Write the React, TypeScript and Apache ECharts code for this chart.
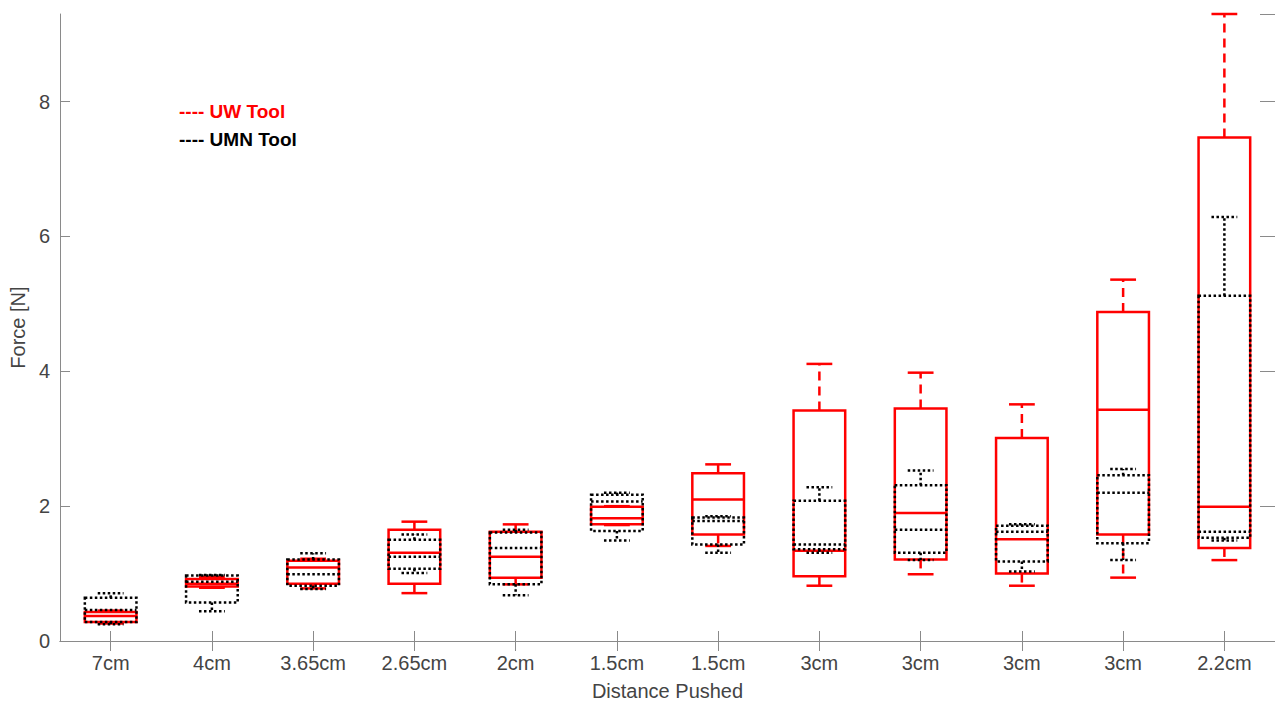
import React, { useEffect, useRef } from "react";
import * as echarts from "echarts";

const categories = ["7cm", "4cm", "3.65cm", "2.65cm", "2cm", "1.5cm", "1.5cm", "3cm", "3cm", "3cm", "3cm", "2.2cm"];

// [low whisker, Q1, median, Q3, high whisker]
const uwTool = [
  [0.26, 0.28, 0.37, 0.43, 0.45],
  [0.79, 0.81, 0.85, 0.92, 0.95],
  [0.78, 0.85, 1.09, 1.19, 1.22],
  [0.71, 0.85, 1.31, 1.65, 1.77],
  [0.84, 0.94, 1.25, 1.62, 1.73],
  [1.72, 1.73, 1.82, 1.99, 2.0],
  [1.41, 1.58, 2.1, 2.49, 2.62],
  [0.82, 0.96, 1.34, 3.42, 4.11],
  [0.99, 1.21, 1.9, 3.45, 3.98],
  [0.82, 1.0, 1.51, 3.01, 3.51],
  [0.94, 1.58, 3.43, 4.88, 5.36],
  [1.2, 1.38, 1.99, 7.47, 9.3],
];

const umnTool = [
  [0.25, 0.28, 0.46, 0.64, 0.71],
  [0.44, 0.57, 0.88, 0.97, 0.98],
  [0.77, 0.82, 0.99, 1.21, 1.3],
  [1.01, 1.07, 1.25, 1.5, 1.58],
  [0.68, 0.84, 1.38, 1.61, 1.65],
  [1.49, 1.63, 2.07, 2.17, 2.2],
  [1.31, 1.43, 1.78, 1.83, 1.85],
  [1.31, 1.36, 1.43, 2.08, 2.28],
  [1.2, 1.31, 1.65, 2.31, 2.53],
  [1.03, 1.18, 1.62, 1.71, 1.73],
  [1.2, 1.45, 2.2, 2.46, 2.55],
  [1.49, 1.53, 1.62, 5.12, 6.29],
];

const yTicks = [0, 2, 4, 6, 8];
const yMax = 9.3;

const FONT = "'Liberation Sans', Arial, Helvetica, sans-serif";
const AXIS_COLOR = "#8a8a8a";
const LABEL_COLOR = "#444444";

function makeRender(color: string, boxDash: number[] | null, whiskerDash: number[], capDash: number[] | null, lw: number) {
  return (params: any, api: any) => {
    const x = api.value(0);
    const low = api.value(1);
    const q1 = api.value(2);
    const med = api.value(3);
    const q3 = api.value(4);
    const high = api.value(5);
    const bw = api.size([1, 0])[0] * 0.51;
    const half = bw / 2;
    const capHalf = bw / 4;
    const pLow = api.coord([x, low]);
    const pQ1 = api.coord([x, q1]);
    const pMed = api.coord([x, med]);
    const pQ3 = api.coord([x, q3]);
    const pHigh = api.coord([x, high]);
    const cx = pMed[0];
    const base = { stroke: color, lineWidth: lw, fill: "none" };
    const boxStyle = boxDash ? { ...base, lineDash: boxDash } : base;
    const capStyle = capDash ? { ...base, lineDash: capDash } : base;
    return {
      type: "group",
      children: [
        {
          type: "line",
          shape: { x1: cx, y1: pQ3[1], x2: cx, y2: pHigh[1] },
          style: { ...base, lineDash: whiskerDash },
        },
        {
          type: "line",
          shape: { x1: cx, y1: pQ1[1], x2: cx, y2: pLow[1] },
          style: { ...base, lineDash: whiskerDash },
        },
        {
          type: "line",
          shape: { x1: cx - capHalf, y1: pHigh[1], x2: cx + capHalf, y2: pHigh[1] },
          style: capStyle,
        },
        {
          type: "line",
          shape: { x1: cx - capHalf, y1: pLow[1], x2: cx + capHalf, y2: pLow[1] },
          style: capStyle,
        },
        {
          type: "rect",
          shape: { x: cx - half, y: pQ3[1], width: bw, height: pQ1[1] - pQ3[1] },
          style: boxStyle,
        },
        {
          type: "line",
          shape: { x1: cx - half, y1: pMed[1], x2: cx + half, y2: pMed[1] },
          style: boxStyle,
        },
      ],
    };
  };
}

export default function App() {
  const ref = useRef<HTMLDivElement>(null);

  useEffect(() => {
    if (!ref.current) return;
    const chart = echarts.init(ref.current, undefined, { renderer: "svg" });
    const uwData = uwTool.map((d, i) => [i, ...d]);
    const umnData = umnTool.map((d, i) => [i, ...d]);

    const axisCommon = {
      axisLine: { show: true, lineStyle: { color: AXIS_COLOR, width: 1 } },
      axisTick: { show: true, inside: true, length: 10, lineStyle: { color: AXIS_COLOR } },
      splitLine: { show: false },
    };

    chart.setOption({
      animation: false,
      backgroundColor: "#ffffff",
      grid: { left: 59, right: -14, top: 14, bottom: 57, containLabel: false },
      xAxis: [
        {
          type: "category",
          data: categories,
          boundaryGap: true,
          position: "bottom",
          ...axisCommon,
          axisTick: { ...axisCommon.axisTick, alignWithLabel: true },
          axisLabel: { fontSize: 20, color: LABEL_COLOR, fontFamily: FONT, margin: 12 },
          name: "Distance Pushed",
          nameLocation: "middle",
          nameGap: 40,
          nameTextStyle: { fontSize: 20, color: LABEL_COLOR, fontFamily: FONT },
        },
        {
          type: "category",
          data: categories,
          boundaryGap: true,
          position: "top",
          ...axisCommon,
          axisTick: { ...axisCommon.axisTick, alignWithLabel: true },
          axisLabel: { show: false },
        },
      ],
      yAxis: [
        {
          type: "value",
          min: 0,
          max: yMax,
          interval: 2,
          position: "left",
          ...axisCommon,
          axisLabel: {
            fontSize: 20,
            color: LABEL_COLOR,
            fontFamily: FONT,
            margin: 10,
            showMaxLabel: false,
            formatter: (v: number) => (yTicks.includes(v) ? String(v) : ""),
          },
          name: "Force [N]",
          nameLocation: "middle",
          nameGap: 22,
          nameRotate: 90,
          nameTextStyle: { fontSize: 20, color: LABEL_COLOR, fontFamily: FONT },
        },
        {
          type: "value",
          min: 0,
          max: yMax,
          interval: 2,
          position: "right",
          ...axisCommon,
          axisTick: { ...axisCommon.axisTick, length: 15 },
          axisLabel: { show: false },
        },
      ],
      graphic: [
        {
          type: "text",
          left: 179,
          top: 102,
          style: { text: "---- UW Tool", fill: "#ff0000", font: `bold 19px ${FONT}` },
        },
        {
          type: "text",
          left: 179,
          top: 130,
          style: { text: "---- UMN Tool", fill: "#000000", font: `bold 19px ${FONT}` },
        },
      ],
      series: [
        {
          name: "UW Tool",
          type: "custom",
          xAxisIndex: 0,
          yAxisIndex: 0,
          clip: false,
          encode: { x: 0, y: [1, 2, 3, 4, 5] },
          renderItem: makeRender("#ff0000", null, [9, 6], null, 2.5),
          data: uwData,
          z: 2,
        },
        {
          name: "UMN Tool",
          type: "custom",
          xAxisIndex: 0,
          yAxisIndex: 0,
          clip: false,
          encode: { x: 0, y: [1, 2, 3, 4, 5] },
          renderItem: makeRender("#000000", [2.5, 2.5], [2.5, 2.5], [2.5, 2.5], 2.5),
          data: umnData,
          z: 3,
        },
      ],
    });
    return () => chart.dispose();
  }, []);

  return (
    <div
      ref={ref}
      style={{ position: "fixed", left: 0, top: 0, width: 1275, height: 706, background: "#fff" }}
    />
  );
}
